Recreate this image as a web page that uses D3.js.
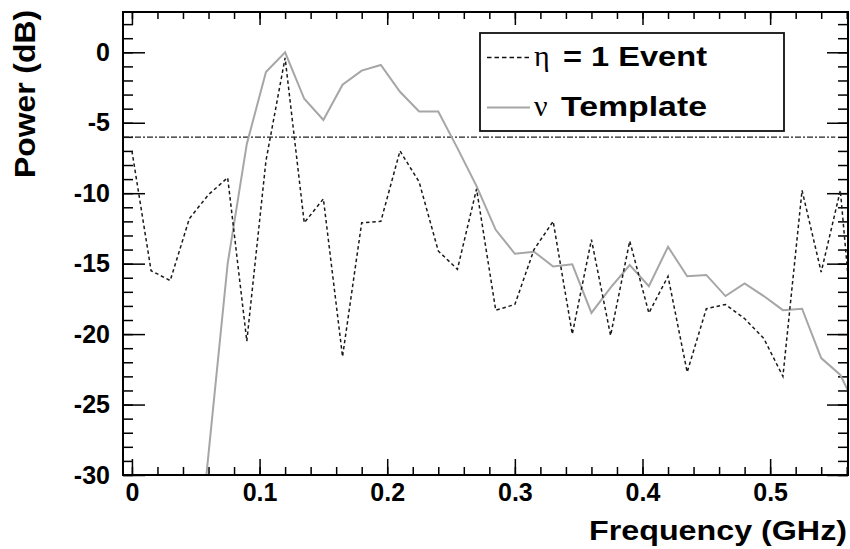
<!DOCTYPE html>
<html>
<head>
<meta charset="utf-8">
<script src="https://cdn.jsdelivr.net/npm/d3@7"></script>
<style>
    body { margin: 0; background: #fff; }
    svg text { font-family: "Liberation Sans", Arial, sans-serif; font-weight: bold; fill: #000; }
</style>
</head>
<body>
<svg id="chart" width="850" height="549"></svg>
<script>
// frequency bins (GHz)
var freq = [0, 0.015, 0.03, 0.045, 0.06, 0.075, 0.09, 0.105, 0.12, 0.135,
    0.15, 0.165, 0.18, 0.195, 0.21, 0.225, 0.24, 0.255, 0.27, 0.285,
    0.3, 0.315, 0.33, 0.345, 0.36, 0.375, 0.39, 0.405, 0.42, 0.435,
    0.45, 0.465, 0.48, 0.495, 0.51, 0.525, 0.54, 0.555, 0.57];

// eta = 1 event (dB)
var eventPower = [-7.0, -15.5, -16.2, -11.8, -10.1, -8.9, -20.5, -7.7, -0.4, -12.1,
    -10.4, -21.6, -12.1, -12.0, -7.0, -9.2, -14.1, -15.4, -9.7, -18.3,
    -17.9, -14.0, -12.0, -20.0, -13.3, -20.1, -13.4, -18.5, -15.9, -22.7,
    -18.2, -17.9, -18.9, -20.3, -23.0, -9.8, -15.6, -9.8, -25.0];

// nu template (dB), first bins are off the bottom of the plot
var templatePower = [null, null, null, -42, -28.5, -15.0, -6.5, -1.4, 0, -3.3,
    -4.8, -2.3, -1.3, -0.9, -2.8, -4.2, -4.2, -6.8, -9.5, -12.6,
    -14.3, -14.15, -15.2, -15.05, -18.5, -16.7, -15.1, -16.6, -13.8, -15.9,
    -15.8, -17.3, -16.4, -17.3, -18.3, -18.2, -21.7, -22.9, -25.7];

// half power reference line
var halfPower = -6.02;
var halfPowerEnd = 0.551;

var xMajor = [0, 0.1, 0.2, 0.3, 0.4, 0.5];
var yMajor = [-30, -25, -20, -15, -10, -5, 0];

(function () {
    var svg = d3.select("#chart");
    var pLeft = 123, pRight = 848, pTop = 12, pBottom = 475;

    var x = d3.scaleLinear().domain([-0.007, 0.561]).range([pLeft, pRight]);
    var y = d3.scaleLinear().domain([-30, 2.86]).range([pBottom, pTop]);

    var xMinor = d3.range(0, 0.5601, 0.02);
    var yMinor = d3.range(-30, 2.5, 1);

    svg.append("defs").append("clipPath").attr("id", "plotclip")
        .append("rect")
        .attr("x", pLeft).attr("y", pTop)
        .attr("width", pRight - pLeft).attr("height", pBottom - pTop);

    //axes, ticks drawn inwards on all four sides
    function styleAxis(g) {
        g.select(".domain").remove();
        g.selectAll("line").attr("stroke", "#000").attr("stroke-width", 1.5);
        g.selectAll("text").attr("font-size", 25).attr("fill", "#000");
    }

    svg.append("g").attr("transform", "translate(0," + pBottom + ")")
        .call(d3.axisBottom(x).tickValues(xMinor).tickSize(-8).tickFormat(""))
        .call(styleAxis);
    svg.append("g").attr("transform", "translate(0," + pBottom + ")")
        .call(d3.axisBottom(x).tickValues(xMajor).tickSize(-16).tickPadding(8)
            .tickFormat(function (d) { return String(d); }))
        .call(styleAxis);
    svg.append("g").attr("transform", "translate(0," + pTop + ")")
        .call(d3.axisTop(x).tickValues(xMinor).tickSize(-7).tickFormat(""))
        .call(styleAxis);
    svg.append("g").attr("transform", "translate(0," + pTop + ")")
        .call(d3.axisTop(x).tickValues(xMajor).tickSize(-13).tickFormat(""))
        .call(styleAxis);

    svg.append("g").attr("transform", "translate(" + pLeft + ",0)")
        .call(d3.axisLeft(y).tickValues(yMinor).tickSize(-10).tickFormat(""))
        .call(styleAxis);
    svg.append("g").attr("transform", "translate(" + pLeft + ",0)")
        .call(d3.axisLeft(y).tickValues(yMajor).tickSize(-22).tickPadding(13)
            .tickFormat(function (d) { return String(d); }))
        .call(styleAxis);
    svg.append("g").attr("transform", "translate(" + pRight + ",0)")
        .call(d3.axisRight(y).tickValues(yMinor).tickSize(-10).tickFormat(""))
        .call(styleAxis);
    svg.append("g").attr("transform", "translate(" + pRight + ",0)")
        .call(d3.axisRight(y).tickValues(yMajor).tickSize(-21).tickFormat(""))
        .call(styleAxis);

    var plot = svg.append("g").attr("clip-path", "url(#plotclip)");

    // half power line
    plot.append("line")
        .attr("x1", x(x.domain()[0])).attr("x2", x(halfPowerEnd))
        .attr("y1", y(halfPower)).attr("y2", y(halfPower))
        .attr("stroke", "#222").attr("stroke-width", 1.4)
        .attr("stroke-dasharray", "6,2,2,2");

    var templateLine = d3.line()
        .defined(function (d, i) { return templatePower[i] !== null; })
        .x(function (d, i) { return x(freq[i]); })
        .y(function (d, i) { return y(templatePower[i]); });

    var eventLine = d3.line()
        .x(function (d, i) { return x(freq[i]); })
        .y(function (d, i) { return y(eventPower[i]); });

    plot.append("path")
        .datum(freq)
        .attr("d", templateLine)
        .attr("fill", "none")
        .attr("stroke", "#a6a6a6")
        .attr("stroke-width", 2);

    plot.append("path")
        .datum(freq)
        .attr("d", eventLine)
        .attr("fill", "none")
        .attr("stroke", "#1a1a1a")
        .attr("stroke-width", 1.5)
        .attr("stroke-dasharray", "3.5,2.8");

    // frame
    svg.append("rect")
        .attr("x", pLeft).attr("y", pTop)
        .attr("width", pRight - pLeft).attr("height", pBottom - pTop)
        .attr("fill", "none").attr("stroke", "#000").attr("stroke-width", 2);

    // legend
    var legend = svg.append("g");
    legend.append("rect")
        .attr("x", 480).attr("y", 33).attr("width", 304).attr("height", 98)
        .attr("fill", "#fff").attr("stroke", "#111").attr("stroke-width", 1.8);

    legend.append("line")
        .attr("x1", 487).attr("x2", 530).attr("y1", 57.5).attr("y2", 57.5)
        .attr("stroke", "#111").attr("stroke-width", 1.3).attr("stroke-dasharray", "4.5,3");
    legend.append("line")
        .attr("x1", 487).attr("x2", 530).attr("y1", 107.5).attr("y2", 107.5)
        .attr("stroke", "#a6a6a6").attr("stroke-width", 1.8);

    legend.append("text").attr("x", 534).attr("y", 66)
        .style("font-family", "'Liberation Serif', 'DejaVu Serif', serif")
        .style("font-weight", "normal").attr("font-size", 30).text("η");
    legend.append("text").attr("x", 563).attr("y", 66)
        .attr("font-size", 27).attr("textLength", 144).attr("lengthAdjust", "spacingAndGlyphs")
        .text("= 1 Event");
    legend.append("text").attr("x", 534).attr("y", 116)
        .style("font-family", "'Liberation Serif', 'DejaVu Serif', serif")
        .style("font-weight", "normal").attr("font-size", 30).text("ν");
    legend.append("text").attr("x", 561).attr("y", 116)
        .attr("font-size", 28).attr("textLength", 146).attr("lengthAdjust", "spacingAndGlyphs")
        .text("Template");

    // axis titles
    svg.append("text")
        .attr("x", 847).attr("y", 539.5)
        .attr("text-anchor", "end")
        .attr("font-size", 27).attr("textLength", 258).attr("lengthAdjust", "spacingAndGlyphs")
        .text("Frequency (GHz)");

    svg.append("text")
        .attr("transform", "translate(35,178) rotate(-90)")
        .attr("font-size", 30).attr("textLength", 168).attr("lengthAdjust", "spacingAndGlyphs")
        .text("Power (dB)");
})();
</script>
</body>
</html>
